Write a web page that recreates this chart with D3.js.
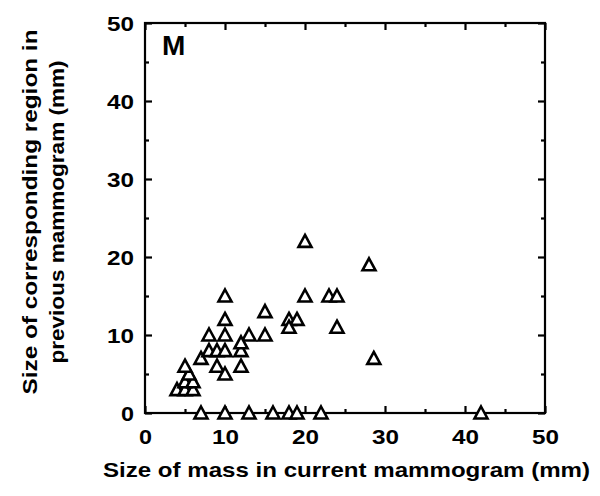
<!DOCTYPE html>
<html><head><meta charset="utf-8">
<script src="https://cdn.jsdelivr.net/npm/d3@7"></script>
<style>body{margin:0;background:#fff}svg{display:block}text{font-family:"Liberation Sans",Arial,sans-serif;font-weight:bold;fill:#000}</style>
</head><body><svg id="c" width="600" height="496"></svg>
<script>
const xVals = [4,5,6,5,6,5.5,5,7,8,9,10,12,9,12,10,8,10,13,15,12,10,10,15,18,19,18,20,23,24,24,20,28,28.6,7,10,13,16,18,19,22,42];
const yVals = [3,3,3,4,4,5,6,7,8,8,8,8,6,6,5,10,10,10,10,9,12,15,13,12,12,11,15,15,15,11,22,19,7,0,0,0,0,0,0,0,0];
const xTicks = [0,10,20,30,40,50];
const yTicks = [0,10,20,30,40,50];
const minorTicks = [5,15,25,35,45];
const xTitle = "Size of mass in current mammogram (mm)";
const yTitle = ["Size of corresponding region in", "previous mammogram (mm)"];
const panel = "M";

const svg = d3.select("#c");
const L=145,R=545,T=23,B=413;
const x = d3.scaleLinear().domain([0,50]).range([L,R]);
const y = d3.scaleLinear().domain([0,50]).range([B,T]);
const sw = 2.2;
const g = svg.append("g");
g.append("rect").attr("x",L).attr("y",T).attr("width",R-L).attr("height",B-T)
 .attr("fill","none").attr("stroke","#000").attr("stroke-width",sw);
function ax(axisFn, scale, tr, len, vals, labels){
  const a = g.append("g").attr("transform",tr).call(axisFn(scale).tickValues(vals).tickSizeInner(-len).tickSizeOuter(0).tickFormat(labels?d3.format("d"):""));
  a.select(".domain").remove();
  a.selectAll("line").attr("stroke","#000").attr("stroke-width",sw);
  a.selectAll("text").attr("font-family",null).attr("font-size",labels?20:0);
  return a;
}
const tl = d => (String(d).length===1?13:27);
const bx = ax(d3.axisBottom, x, `translate(0,${B})`, 7, xTicks, true);
bx.selectAll("text").attr("y",31).attr("dy",0).attr("textLength",tl).attr("lengthAdjust","spacingAndGlyphs");
ax(d3.axisBottom, x, `translate(0,${B})`, 4, minorTicks, false);
ax(d3.axisTop, x, `translate(0,${T})`, 7, xTicks, false);
ax(d3.axisTop, x, `translate(0,${T})`, 4, minorTicks, false);
const ly = ax(d3.axisLeft, y, `translate(${L},0)`, 7, yTicks, true);
ly.selectAll("text").attr("x",-11).attr("dy","0.36em").attr("textLength",tl).attr("lengthAdjust","spacingAndGlyphs");
ax(d3.axisLeft, y, `translate(${L},0)`, 4, minorTicks, false);
ax(d3.axisRight, y, `translate(${R},0)`, 7, yTicks, false);
ax(d3.axisRight, y, `translate(${R},0)`, 4, minorTicks, false);

const tri = (cx,cy)=>`M${cx},${cy-6.5}L${cx+6.5},${cy+5.5}L${cx-6.5},${cy+5.5}Z`;
g.selectAll("path.pt").data(xVals.map((v,i)=>[v,yVals[i]])).join("path")
 .attr("class","pt").attr("d",d=>tri(x(d[0]),y(d[1])))
 .attr("fill","#fff").attr("stroke","#000").attr("stroke-width",2.6).attr("stroke-linejoin","miter");

svg.append("text").attr("x",346.5).attr("y",477).attr("text-anchor","middle").attr("font-size",21)
 .attr("textLength",487).attr("lengthAdjust","spacingAndGlyphs").text(xTitle);
const yt = svg.append("text").attr("transform",`translate(0,${212}) rotate(-90)`).attr("text-anchor","middle").attr("font-size",21);
yt.append("tspan").attr("x",0).attr("y",37).attr("textLength",365).attr("lengthAdjust","spacingAndGlyphs").text(yTitle[0]);
yt.append("tspan").attr("x",0).attr("y",64).attr("textLength",303).attr("lengthAdjust","spacingAndGlyphs").text(yTitle[1]);
svg.append("text").attr("x",162).attr("y",55).attr("font-size",28).text(panel);
</script></body></html>
